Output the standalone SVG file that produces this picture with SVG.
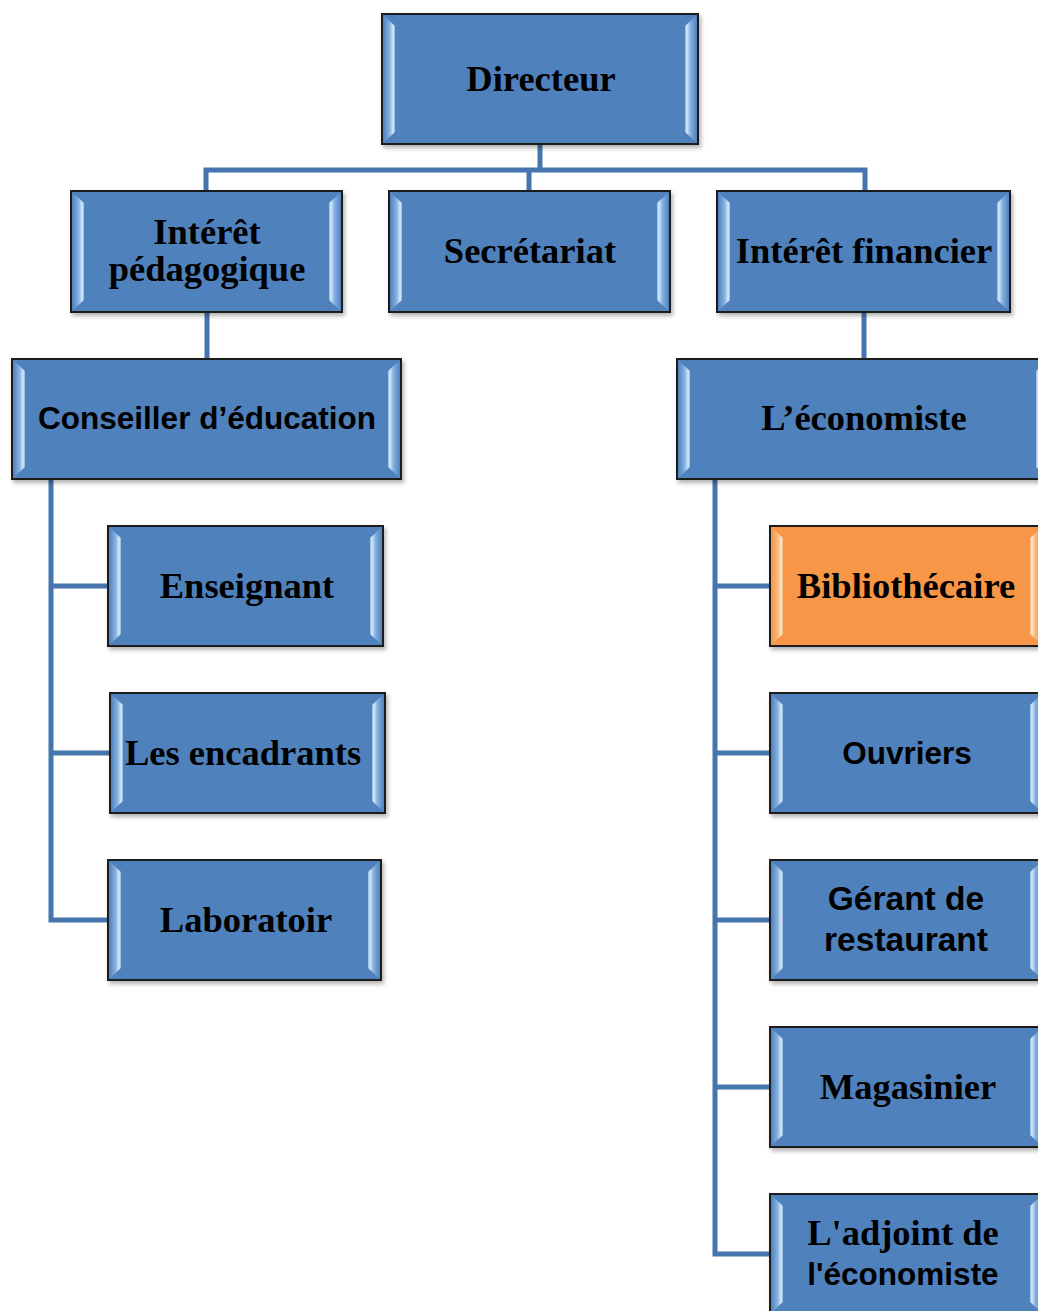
<svg xmlns="http://www.w3.org/2000/svg" width="1038" height="1311" viewBox="0 0 1038 1311">
<defs>
<linearGradient id="bl" x1="0" y1="0" x2="1" y2="0">
<stop offset="0" stop-color="#4F81BD"/><stop offset="0.55" stop-color="#86B1E0"/><stop offset="0.85" stop-color="#D4EAFB"/><stop offset="1" stop-color="#8DB4DF"/>
</linearGradient>
<linearGradient id="br" x1="1" y1="0" x2="0" y2="0">
<stop offset="0" stop-color="#4F81BD"/><stop offset="0.55" stop-color="#86B1E0"/><stop offset="0.85" stop-color="#D4EAFB"/><stop offset="1" stop-color="#8DB4DF"/>
</linearGradient>
<linearGradient id="ol" x1="0" y1="0" x2="1" y2="0">
<stop offset="0" stop-color="#F79646"/><stop offset="0.55" stop-color="#F9B67C"/><stop offset="0.85" stop-color="#FDE6CC"/><stop offset="1" stop-color="#F9B57A"/>
</linearGradient>
<linearGradient id="or" x1="1" y1="0" x2="0" y2="0">
<stop offset="0" stop-color="#F79646"/><stop offset="0.55" stop-color="#F9B67C"/><stop offset="0.85" stop-color="#FDE6CC"/><stop offset="1" stop-color="#F9B57A"/>
</linearGradient>
<filter id="sh" x="-5%" y="-5%" width="115%" height="120%">
<feDropShadow dx="2" dy="3" stdDeviation="2" flood-color="#000" flood-opacity="0.3"/>
</filter>
</defs>
<style>
.box{fill:#4F81BD;stroke:#1a1a1a;stroke-width:2;filter:url(#sh)}
.obox{fill:#F79646;stroke:#1a1a1a;stroke-width:2;filter:url(#sh)}
.bl{fill:url(#bl)}.br{fill:url(#br)}.ol{fill:url(#ol)}.or{fill:url(#or)}
.s{font-family:"Liberation Serif","Times New Roman",serif;font-weight:bold;font-size:36.5px;fill:#000;text-anchor:middle}
.a{font-family:"Liberation Sans",Arial,sans-serif;font-weight:bold;font-size:31.5px;fill:#000;text-anchor:middle}
.g{font-size:33.5px}
.c{fill:none;stroke:#4674AC;stroke-width:5;stroke-linejoin:miter}
</style>
<rect width="1038" height="1311" fill="#fff"/>
<g id="connectors">
<path class="c" d="M540,144 V170 M206,190 V170 H865 V190 M529,170 V190"/>
<path class="c" d="M207,312 V359 M864,312 V359"/>
<path class="c" d="M51,479 V920 H108 M51,586 H108 M51,753 H110"/>
<path class="c" d="M715,479 V1254 H770 M715,586 H770 M715,753 H770 M715,920 H770 M715,1087 H770"/>
</g>
<g id="directeur">
<rect class="box" x="382" y="14" width="316" height="130"/>
<polygon class="bl" points="383,15 395,26 395,132 383,143"/><polygon class="br" points="697,15 685,26 685,132 697,143"/>
<text class="s" x="541" y="91">Directeur</text>
</g>
<g id="interet-pedagogique">
<rect class="box" x="71" y="191" width="271" height="121"/>
<polygon class="bl" points="72,192 84,203 84,300 72,311"/><polygon class="br" points="341,192 329,203 329,300 341,311"/>
<text class="s" x="207" y="244">Intérêt</text>
<text class="s" x="207" y="281">pédagogique</text>
</g>
<g id="secretariat">
<rect class="box" x="389" y="191" width="281" height="121"/>
<polygon class="bl" points="390,192 402,203 402,300 390,311"/><polygon class="br" points="669,192 657,203 657,300 669,311"/>
<text class="s" x="530" y="263">Secrétariat</text>
</g>
<g id="interet-financier">
<rect class="box" x="717" y="191" width="293" height="121"/>
<polygon class="bl" points="718,192 730,203 730,300 718,311"/><polygon class="br" points="1009,192 997,203 997,300 1009,311"/>
<text class="s" x="864" y="263">Intérêt financier</text>
</g>
<g id="conseiller">
<rect class="box" x="12" y="359" width="389" height="120"/>
<polygon class="bl" points="13,360 25,371 25,467 13,478"/><polygon class="br" points="400,360 388,371 388,467 400,478"/>
<text class="a" x="207" y="429">Conseiller d’éducation</text>
</g>
<g id="economiste">
<rect class="box" x="677" y="359" width="372" height="120"/>
<polygon class="bl" points="678,360 690,371 690,467 678,478"/><polygon class="br" points="1048,360 1036,371 1036,467 1048,478"/>
<text class="s" x="864" y="430">L’économiste</text>
</g>
<g id="enseignant">
<rect class="box" x="108" y="526" width="275" height="120"/>
<polygon class="bl" points="109,527 121,538 121,634 109,645"/><polygon class="br" points="382,527 370,538 370,634 382,645"/>
<text class="s" x="247" y="598">Enseignant</text>
</g>
<g id="encadrants">
<rect class="box" x="110" y="693" width="275" height="120"/>
<polygon class="bl" points="111,694 123,705 123,801 111,812"/><polygon class="br" points="384,694 372,705 372,801 384,812"/>
<text class="s" x="243" y="765">Les encadrants</text>
</g>
<g id="laboratoir">
<rect class="box" x="108" y="860" width="273" height="120"/>
<polygon class="bl" points="109,861 121,872 121,968 109,979"/><polygon class="br" points="380,861 368,872 368,968 380,979"/>
<text class="s" x="246" y="932">Laboratoir</text>
</g>
<g id="bibliothecaire">
<rect class="obox" x="770" y="526" width="273" height="120"/>
<polygon class="ol" points="771,527 783,538 783,634 771,645"/><polygon class="or" points="1042,527 1030,538 1030,634 1042,645"/>
<text class="s" x="906" y="598">Bibliothécaire</text>
</g>
<g id="ouvriers">
<rect class="box" x="770" y="693" width="273" height="120"/>
<polygon class="bl" points="771,694 783,705 783,801 771,812"/><polygon class="br" points="1042,694 1030,705 1030,801 1042,812"/>
<text class="a" x="907" y="764">Ouvriers</text>
</g>
<g id="gerant">
<rect class="box" x="770" y="860" width="273" height="120"/>
<polygon class="bl" points="771,861 783,872 783,968 771,979"/><polygon class="br" points="1042,861 1030,872 1030,968 1042,979"/>
<text class="a g" x="906" y="910">Gérant de</text>
<text class="a g" x="906" y="951">restaurant</text>
</g>
<g id="magasinier">
<rect class="box" x="770" y="1027" width="273" height="120"/>
<polygon class="bl" points="771,1028 783,1039 783,1135 771,1146"/><polygon class="br" points="1042,1028 1030,1039 1030,1135 1042,1146"/>
<text class="s" x="908" y="1099">Magasinier</text>
</g>
<g id="adjoint">
<rect class="box" x="770" y="1194" width="273" height="120"/>
<polygon class="bl" points="771,1195 783,1206 783,1302 771,1313"/><polygon class="br" points="1042,1195 1030,1206 1030,1302 1042,1313"/>
<text class="s" x="903" y="1245">L'adjoint de</text>
<text class="a" x="903" y="1285">l'économiste</text>
</g>
</svg>
